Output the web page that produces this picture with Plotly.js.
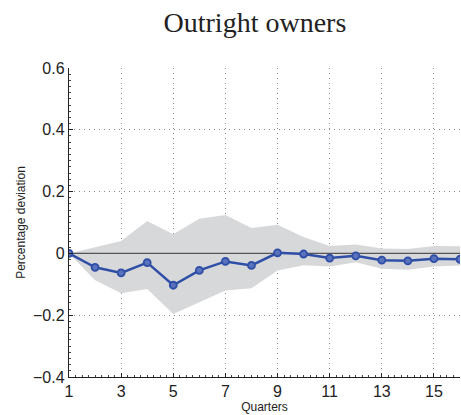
<!DOCTYPE html>
<html><head><meta charset="utf-8">
<script src="https://cdn.plot.ly/plotly-3.0.1.min.js"></script>
<style>html,body{margin:0;padding:0;background:#fff}#chart{width:461px;height:415px}</style>
</head><body><div id="chart"></div>
<script>
const quarters = [1,2,3,4,5,6,7,8,9,10,11,12,13,14,15,16];
const median = [0,-0.045,-0.063,-0.030,-0.103,-0.055,-0.026,-0.039,0.002,-0.002,-0.015,-0.008,-0.022,-0.024,-0.017,-0.019];
const upper = [0,0.020,0.040,0.105,0.062,0.112,0.124,0.082,0.093,0.053,0.024,0.029,0.016,0.014,0.024,0.023];
const lower = [0,-0.087,-0.129,-0.115,-0.196,-0.158,-0.120,-0.113,-0.055,-0.038,-0.042,-0.029,-0.050,-0.053,-0.042,-0.039];
const xTicks = [1,3,5,7,9,11,13,15];
const yTicks = [-0.4,-0.2,0,0.2,0.4,0.6];
const yTickText = ['\u22120.4','\u22120.2','0','0.2','0.4','0.6'];

const traces = [
  {x: quarters, y: lower, mode:'lines', line:{width:0}, hoverinfo:'skip', showlegend:false},
  {x: quarters, y: upper, mode:'lines', line:{width:0}, fill:'tonexty', fillcolor:'rgb(215,216,218)', hoverinfo:'skip', showlegend:false},
  {x: [1,16], y: [0,0], mode:'lines', line:{color:'#555', width:1.2}, showlegend:false},
  {x: quarters, y: median, mode:'lines+markers', line:{color:'#2f4ea6', width:2.5},
   marker:{symbol:'circle', size:7, color:'#5a73bd', line:{color:'#2f4ea6', width:1.8}}, showlegend:false}
];
const layout = {
  width:461, height:415,
  margin:{l:69, r:1, t:68, b:38},
  paper_bgcolor:'#fff', plot_bgcolor:'#fff',
  title:{text:'Outright owners', x:0.553, xanchor:'center', y:0.947, yanchor:'middle',
    font:{family:'Liberation Serif, DejaVu Serif, serif', size:28, color:'#222'}},
  xaxis:{range:[1,16], tickvals:xTicks, ticktext:xTicks.map(String), showgrid:true,
    gridcolor:'#888', griddash:'1px,4px', gridwidth:1, zeroline:false,
    showline:true, linecolor:'#222', linewidth:1.2, ticks:'inside', ticklen:4, tickcolor:'#222',
    minor:{ticks:'inside', ticklen:2, tickcolor:'#444', dtick:0.25, showgrid:false},
    tickfont:{family:'Liberation Sans, Arial, sans-serif', size:16, color:'#222'},
    title:{text:'Quarters', standoff:1, font:{family:'Liberation Sans, Arial, sans-serif', size:12, color:'#222'}}},
  yaxis:{range:[-0.4,0.6], tickvals:yTicks, ticktext:yTickText, showgrid:true,
    gridcolor:'#888', griddash:'1px,4px', gridwidth:1, zeroline:false,
    showline:true, linecolor:'#222', linewidth:1.2, ticks:'inside', ticklen:4, tickcolor:'#222',
    minor:{ticks:'inside', ticklen:2, tickcolor:'#444', dtick:0.02, showgrid:false},
    tickfont:{family:'Liberation Sans, Arial, sans-serif', size:16, color:'#222'},
    title:{text:'Percentage deviation', standoff:4, font:{family:'Liberation Sans, Arial, sans-serif', size:12, color:'#222'}}}
};
Plotly.newPlot('chart', traces, layout, {displayModeBar:false, staticPlot:true});
</script></body></html>
